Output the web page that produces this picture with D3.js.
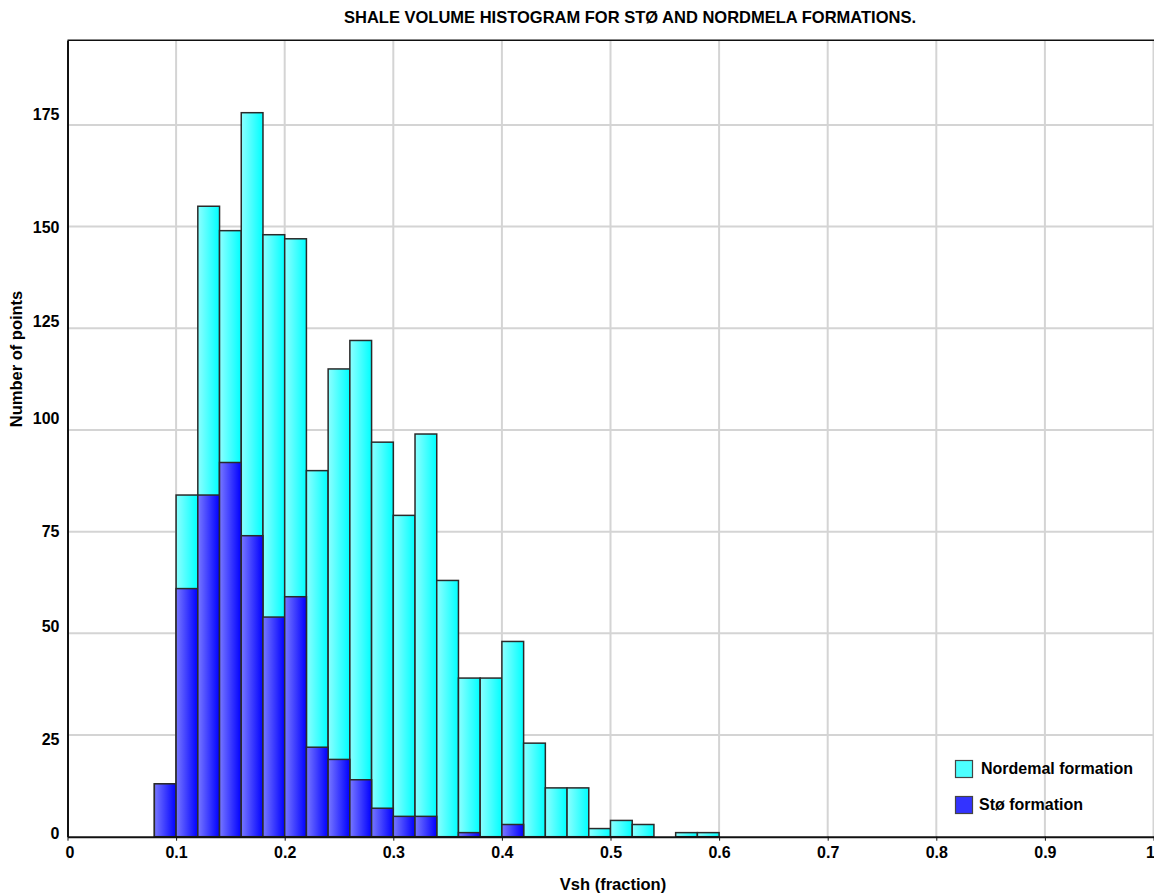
<!DOCTYPE html>
<html>
<head>
<meta charset="utf-8">
<script src="https://cdn.jsdelivr.net/npm/d3@7"></script>
<style>
  html, body { margin: 0; padding: 0; background: #fff; }
  svg { display: block; font-family: "Liberation Sans", Arial, sans-serif; font-weight: bold; }
</style>
</head>
<body>
<svg id="chart" width="1154" height="895"></svg>
<script>
// ---- data ----
const binStarts = [0.08, 0.10, 0.12, 0.14, 0.16, 0.18, 0.20, 0.22, 0.24, 0.26, 0.28, 0.30, 0.32,
                   0.34, 0.36, 0.38, 0.40, 0.42, 0.44, 0.46, 0.48, 0.50, 0.52, 0.54, 0.56, 0.58];
const binWidth = 0.02;
const nordmelaCounts = [13, 84, 155, 149, 178, 148, 147, 90, 115, 122, 97, 79, 99,
                        63, 39, 39, 48, 23, 12, 12, 2, 4, 3, 0, 1, 1];
const stoCounts = [13, 61, 84, 92, 74, 54, 59, 22, 19, 14, 7, 5, 5,
                   0, 1, 0, 3, 0, 0, 0, 0, 0, 0, 0, 0, 0];
const xTickValues = [0, 0.1, 0.2, 0.3, 0.4, 0.5, 0.6, 0.7, 0.8, 0.9, 1];
const xTickLabels = ["0", "0.1", "0.2", "0.3", "0.4", "0.5", "0.6", "0.7", "0.8", "0.9", "1"];
const yTickValues = [0, 25, 50, 75, 100, 125, 150, 175];
const seriesNames = ["Nordemal formation", "Stø formation"];
const titleText = "SHALE VOLUME HISTOGRAM FOR STØ AND NORDMELA FORMATIONS.";
const xTitle = "Vsh (fraction)";
const yTitle = "Number of points";

// ---- layout ----
const plotL = 67.5, plotR = 1153.5, plotT = 40.3, plotB = 836.7;
const yMax = d3.max(nordmelaCounts) * 1.1;
const yLabelNudge = [-3.5, 4, -7.7, -1, -12, -7, 0, -11];
const tickFont = 16;

const svg = d3.select("#chart");
const x = d3.scaleLinear().domain([0, 1]).range([plotL, plotR]);
const y = d3.scaleLinear().domain([0, yMax]).range([plotB, plotT]);

// gradients
const defs = svg.append("defs");
function grad(id, c0, c1) {
  const g = defs.append("linearGradient").attr("id", id)
    .attr("x1", "0%").attr("x2", "100%").attr("y1", "0%").attr("y2", "0%");
  g.append("stop").attr("offset", "0%").attr("stop-color", c0);
  g.append("stop").attr("offset", "100%").attr("stop-color", c1);
}
grad("gCyan", "#8dffff", "#00ffff");
grad("gBlue", "#7878ff", "#0000ff");

// grid
const grid = svg.append("g");
grid.selectAll("line.v").data(xTickValues.filter(d => d > 0)).join("line")
  .attr("x1", d => x(d)).attr("x2", d => x(d))
  .attr("y1", plotT).attr("y2", plotB)
  .attr("stroke", "#d4d4d4").attr("stroke-width", 2);
grid.selectAll("line.h").data(yTickValues.filter(d => d > 0)).join("line")
  .attr("x1", plotL).attr("x2", 1154)
  .attr("y1", d => y(d)).attr("y2", d => y(d))
  .attr("stroke", "#d4d4d4").attr("stroke-width", 2);

// bars
const bins = binStarts.map((b, i) => ({ x0: b, x1: b + binWidth, n: nordmelaCounts[i], s: stoCounts[i] }));
svg.append("g").selectAll("rect").data(bins.filter(d => d.n > 0)).join("rect")
  .attr("x", d => x(d.x0)).attr("width", d => x(d.x1) - x(d.x0))
  .attr("y", d => y(d.n)).attr("height", d => y(0) - y(d.n))
  .attr("fill", "url(#gCyan)").attr("stroke", "#2a2a2a").attr("stroke-width", 1.5);
svg.append("g").selectAll("rect").data(bins.filter(d => d.s > 0)).join("rect")
  .attr("x", d => x(d.x0)).attr("width", d => x(d.x1) - x(d.x0))
  .attr("y", d => y(d.s)).attr("height", d => y(0) - y(d.s))
  .attr("fill", "url(#gBlue)").attr("stroke", "#2a2a2a").attr("stroke-width", 1.5);

// axes
const xAxis = d3.axisBottom(x).tickValues(xTickValues).tickFormat((d, i) => xTickLabels[i])
  .tickSize(4).tickSizeOuter(0).tickPadding(6);
const gx = svg.append("g").attr("transform", `translate(0,${plotB})`).call(xAxis);
gx.select(".domain").attr("stroke", "#111").attr("stroke-width", 2);
gx.selectAll(".tick line").attr("stroke", "#111");
gx.selectAll(".tick text").attr("font-size", tickFont).attr("font-weight", "bold")
  .attr("font-family", "Liberation Sans, Arial, sans-serif").attr("fill", "#000")
  .attr("text-anchor", d => d === 1 ? "end" : "middle")
  .attr("dx", d => d === 1 ? "1px" : (d === 0 ? "2px" : "0px"));

const yAxis = d3.axisLeft(y).tickValues(yTickValues).tickSize(0).tickSizeOuter(0).tickPadding(8);
const gy = svg.append("g").attr("transform", `translate(${plotL},0)`).call(yAxis);
gy.select(".domain").attr("stroke", "#111").attr("stroke-width", 2);
gy.selectAll(".tick text").attr("font-size", tickFont).attr("font-weight", "bold")
  .attr("font-family", "Liberation Sans, Arial, sans-serif").attr("fill", "#000")
  .attr("dy", (d, i) => (0.35 * tickFont + yLabelNudge[i]) + "px");

// top border
svg.append("line").attr("x1", plotL).attr("x2", 1154).attr("y1", plotT).attr("y2", plotT)
  .attr("stroke", "#111").attr("stroke-width", 1.5);

// titles
svg.append("text").attr("x", 630).attr("y", 23).attr("text-anchor", "middle")
  .attr("font-size", 16.5).text(titleText);
svg.append("text").attr("x", 613).attr("y", 890).attr("text-anchor", "middle")
  .attr("font-size", 16.5).text(xTitle);
svg.append("text").attr("transform", "translate(22,359) rotate(-90)").attr("text-anchor", "middle")
  .attr("font-size", 16.5).text(yTitle);

// legend
const legend = svg.append("g");
const legendColors = ["#4dffff", "#3333ff"];
const legendY = [760.5, 796.5];
const legendTextX = [981, 979];
seriesNames.forEach((name, i) => {
  legend.append("rect").attr("x", 955.5).attr("y", legendY[i]).attr("width", 17).attr("height", 17)
    .attr("fill", legendColors[i]).attr("stroke", "#444").attr("stroke-width", 1.2);
  legend.append("text").attr("x", legendTextX[i]).attr("y", legendY[i] + 13.5)
    .attr("font-size", 16).text(name);
});
</script>
</body>
</html>
